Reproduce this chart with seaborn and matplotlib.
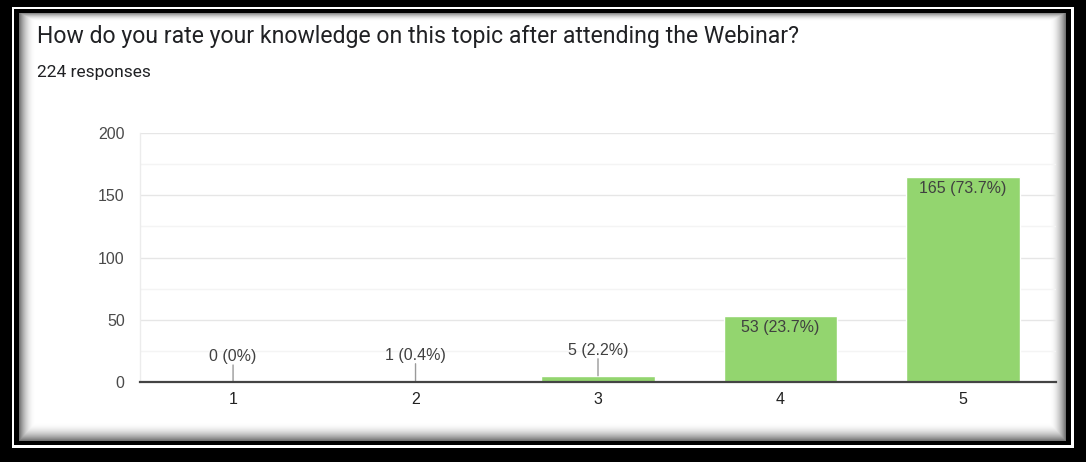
import numpy as np
import pandas as pd
import matplotlib
matplotlib.use("Agg")
import matplotlib.pyplot as plt
import seaborn as sns

# Survey results
ratings = ["1", "2", "3", "4", "5"]
counts = [0, 1, 5, 53, 165]
percents = ["0%", "0.4%", "2.2%", "23.7%", "73.7%"]
title = "How do you rate your knowledge on this topic after attending the Webinar?"
subtitle = "224 responses"
y_ticks = [0, 50, 100, 150, 200]

W, H = 1086, 462
DPI = 100

sns.set_theme(style="white")
plt.rcParams["font.family"] = ["Liberation Sans", "DejaVu Sans"]

fig = plt.figure(figsize=(W / DPI, H / DPI), dpi=DPI)

# ---- framed card background with inner shadow ----
bg = np.zeros((H, W, 3))
bg[7:448, 12:1074] = 1.0          # thin white rule
bg[9:445, 14:1071] = 0.0          # inner black band
x0, x1, y0, y1 = 19, 1066, 13, 441
yy, xx = np.mgrid[y0:y1, x0:x1]
def fall(d, w, a):
    return a * np.clip(1 - d / w, 0, 1) ** 2
shade = np.maximum.reduce([
    fall(xx - x0, 16, 0.55),
    fall(x1 - 1 - xx, 16, 0.55),
    fall(y1 - 1 - yy, 18, 0.55),
    fall(yy - y0, 8, 0.45),
])
bg[y0:y1, x0:x1] = (1 - shade)[..., None]
bax = fig.add_axes([0, 0, 1, 1])
bax.imshow(bg, aspect="auto", interpolation="nearest")
bax.set_axis_off()

fig.text(37 / W, 1 - 37 / H, title, fontsize=16.6, color="#202124",
         family=["Roboto", "DejaVu Sans"], va="center", ha="left")
fig.text(37 / W, 1 - 73 / H, subtitle, fontsize=12.5, color="#202124",
         family=["Roboto", "DejaVu Sans"], va="center", ha="left")

# ---- bar chart ----
L, R, B, T = 140, 1056, 382, 133
ax = fig.add_axes([L / W, 1 - B / H, (R - L) / W, (B - T) / H])
ax.patch.set_alpha(0)

df = pd.DataFrame({"rating": ratings, "count": counts})
sns.barplot(data=df, x="rating", y="count", color="#93d56f", saturation=1,
            width=0.62, ax=ax, zorder=3)

ax.set_ylim(0, 200)
ax.set_xlim(-0.51, 4.51)
ax.set_yticks(y_ticks)
ax.set_yticks(np.arange(25, 200, 50), minor=True)
ax.grid(axis="y", which="major", color="#e6e6e6", lw=1, zorder=0)
ax.grid(axis="y", which="minor", color="#f4f4f4", lw=1, zorder=0)
ax.set_xlabel("")
ax.set_ylabel("")
for s in ["top", "right"]:
    ax.spines[s].set_visible(False)
ax.spines["left"].set_color("#ececec")
ax.spines["left"].set_linewidth(1)
ax.spines["bottom"].set_color("#444444")
ax.spines["bottom"].set_linewidth(1.6)
ax.spines["bottom"].set_zorder(4)
ax.tick_params(axis="y", length=0, pad=11, labelsize=11.5, labelcolor="#4a4a4a")
ax.tick_params(axis="x", length=0, pad=7, labelsize=11.5, labelcolor="#222222")

for i, (c, p) in enumerate(zip(counts, percents)):
    label = f"{c} ({p})"
    if c < 20:
        # small bars: label above with a short leader line
        ax.annotate("", xy=(i, c), xytext=(0, 17), textcoords="offset pixels",
                    arrowprops=dict(arrowstyle="-", color="#9a9a9a", lw=1,
                                    shrinkA=0, shrinkB=0), zorder=4)
        ax.annotate(label, xy=(i, c), xytext=(0, 18), textcoords="offset pixels",
                    ha="center", va="bottom", fontsize=11.5, color="#404040",
                    zorder=5)
    else:
        ax.annotate(label, xy=(i, c), xytext=(0, -4), textcoords="offset pixels",
                    ha="center", va="top", fontsize=11.5, color="#404040",
                    zorder=5)

fig.savefig("out.png", dpi=DPI)
